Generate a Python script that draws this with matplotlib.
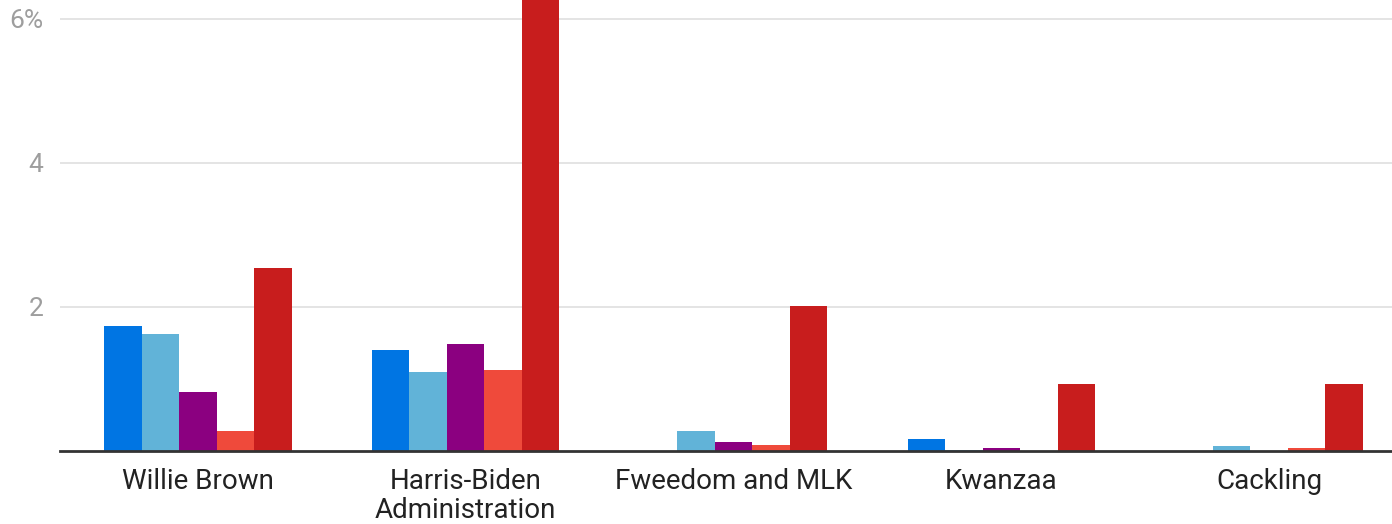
import matplotlib
matplotlib.use("Agg")
import matplotlib.pyplot as plt
import numpy as np

categories = ["Willie Brown", "Harris-Biden\nAdministration", "Fweedom and MLK", "Kwanzaa", "Cackling"]
series_1 = [1.74, 1.40, 0.0, 0.17, 0.0]
series_2 = [1.63, 1.10, 0.28, 0.02, 0.07]
series_3 = [0.82, 1.48, 0.13, 0.04, 0.0]
series_4 = [0.28, 1.12, 0.09, 0.0, 0.04]
series_5 = [2.54, 7.00, 2.01, 0.93, 0.93]
colors = ["#0075e3", "#61b3d8", "#8b0080", "#ef4a3b", "#c81d1d"]
ytick_vals = [2, 4, 6]
ytick_labels = ["2", "4", "6%"]

plt.rcParams['font.family'] = ['Roboto', 'DejaVu Sans']

fig = plt.figure(figsize=(13.92, 5.24), dpi=100)
ax = fig.add_axes([60/1392, 73/524, (1392-60)/1392, 451/524])

series = [series_1, series_2, series_3, series_4, series_5]
x = np.arange(len(categories))
w = 0.14
for i, (s, c) in enumerate(zip(series, colors)):
    ax.bar(x + (i - 2) * w, s, width=w, color=c, zorder=3, linewidth=0)

ax.set_xlim(-0.515, 4.459)
ax.set_ylim(0, 6.26)
ax.set_yticks(ytick_vals)
ax.set_yticklabels(ytick_labels)
ax.yaxis.grid(True, color="#e2e2e2", linewidth=1.3, zorder=0)
ax.set_xticks(x)
ax.set_xticklabels(categories, fontsize=20, color="#222222", linespacing=1.1)
ax.tick_params(axis='y', length=0, pad=12, labelsize=19, labelcolor="#9e9e9e")
ax.tick_params(axis='x', length=0, pad=12)
for sp in ["top", "right", "left"]:
    ax.spines[sp].set_visible(False)
ax.spines["bottom"].set_color("#333333")
ax.spines["bottom"].set_linewidth(2)
ax.spines["bottom"].set_zorder(4)

fig.savefig("out.png", dpi=100)
